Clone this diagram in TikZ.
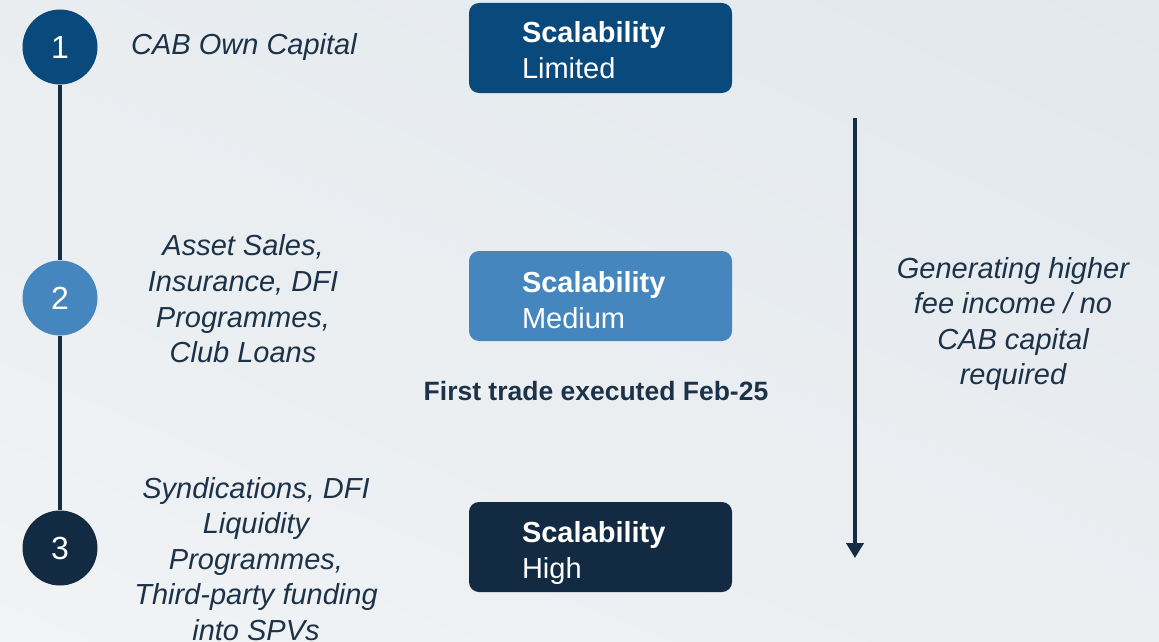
\documentclass[tikz,border=0pt]{standalone}
\usepackage{fontspec}
\setmainfont{Liberation Sans}
\usetikzlibrary{arrows.meta,shadings}
\definecolor{bgUL}{HTML}{E9EDF0}
\definecolor{bgUR}{HTML}{E2E8ED}
\definecolor{bgLL}{HTML}{F1F3F5}
\definecolor{bgLR}{HTML}{EBEEF1}
\definecolor{cOne}{HTML}{0A497B}
\definecolor{cTwo}{HTML}{4686BE}
\definecolor{cThree}{HTML}{132B42}
\definecolor{navy}{HTML}{142C44}
\definecolor{txt}{HTML}{1C3249}
\tikzset{
  x=1pt, y=-1pt,
  stagecircle/.style={circle, minimum size=75pt, inner sep=0pt, text=white,
    font=\fontsize{32}{34}\selectfont},
  scalebox/.style={rounded corners=10pt, minimum width=263pt, minimum height=90pt, inner sep=0pt},
  boxtext/.style={anchor=west, align=left, text=white, inner sep=0pt,
    font=\fontsize{29}{35.5}\selectfont},
  desc/.style={align=center, text=txt, inner sep=0pt,
    font=\fontsize{29}{35.6}\selectfont\itshape},
  note/.style={align=center, text=txt, inner sep=0pt,
    font=\fontsize{26.5}{30}\selectfont\bfseries},
  spine/.style={draw=navy, line width=4.7pt},
  flow/.style={draw=navy, line width=4.5pt, -{Triangle[width=17pt,length=15pt]}}
}
\begin{document}
\begin{tikzpicture}
\useasboundingbox (0,0) rectangle (1159,642);
\shade[upper left=bgUL, upper right=bgUR, lower left=bgLL, lower right=bgLR] (0,0) rectangle (1159,642);

% timeline circles
\node[stagecircle, fill=cOne] (c1) at (60,47) {1};
\node[stagecircle, fill=cTwo] (c2) at (60,298) {2};
\node[stagecircle, fill=cThree] (c3) at (60,548) {3};
\draw[spine] (c1.south) -- (c2.north);
\draw[spine] (c2.south) -- (c3.north);

% descriptions
\node[desc, anchor=west] (d1) at (131,47) {CAB Own Capital};
\node[desc] (d2) at (243,299) {Asset Sales,\\Insurance, DFI\\Programmes,\\Club Loans};
\node[desc] (d3) at (256,559) {Syndications, DFI\\Liquidity\\Programmes,\\Third-party funding\\into SPVs};

% scalability boxes
\node[scalebox, fill=cOne] (b1) at (600.5,48) {};
\node[scalebox, fill=cTwo] (b2) at (600.5,296) {};
\node[scalebox, fill=cThree] (b3) at (600.5,547) {};
\node[boxtext] (t1) at ([xshift=53pt,yshift=-2pt]b1.west) {\textbf{Scalability}\\Limited};
\node[boxtext] (t2) at ([xshift=53pt,yshift=-4pt]b2.west) {\textbf{Scalability}\\Medium};
\node[boxtext] (t3) at ([xshift=53pt,yshift=-6pt]b3.west) {\textbf{Scalability}\\High};

\node[note] (n2) at (596,391) {First trade executed Feb-25};

% arrow and its label
\coordinate (aTop) at (855,118);
\coordinate (aBot) at (855,558);
\draw[flow] (aTop) -- (aBot);
\node[desc] (lab) at (1013,324) {Generating higher\\fee income / no\\CAB capital\\required};
\end{tikzpicture}
\end{document}
